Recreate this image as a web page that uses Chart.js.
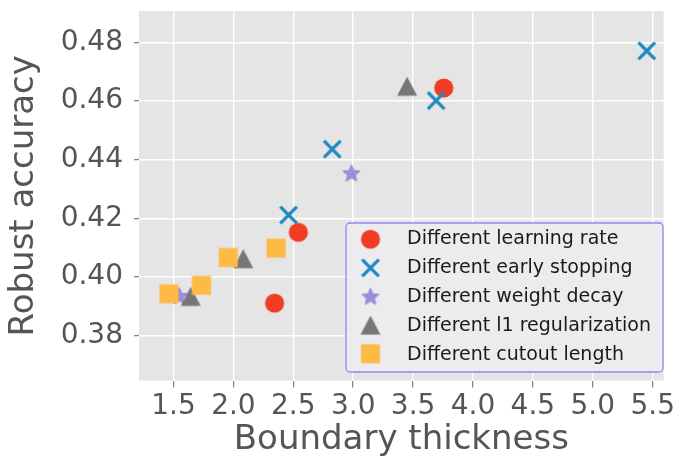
<!DOCTYPE html>
<html><head><meta charset="utf-8">
<script src="https://cdn.jsdelivr.net/npm/chart.js@4/dist/chart.umd.min.js"></script>
<style>html,body{margin:0;padding:0;background:#fff}#wrap{width:675px;height:463px;position:relative}</style>
</head><body><div id="wrap"><canvas id="c" width="675" height="463"></canvas></div>
<script>
const seriesNames = ["Different learning rate","Different early stopping","Different weight decay","Different l1 regularization","Different cutout length"];
const lrX = [3.756, 2.542, 2.344];
const lrY = [0.4645, 0.4152, 0.3910];
const esX = [5.451, 3.692, 2.825, 2.461];
const esY = [0.4772, 0.4602, 0.4436, 0.4211];
const wdX = [2.985, 1.549];
const wdY = [0.4354, 0.3935];
const l1X = [3.450, 2.082, 1.643];
const l1Y = [0.4651, 0.4062, 0.3933];
const coX = [2.356, 1.957, 1.733, 1.462];
const coY = [0.4098, 0.4066, 0.3971, 0.3942];
const xTicks = [1.5, 2.0, 2.5, 3.0, 3.5, 4.0, 4.5, 5.0, 5.5];
const yTicks = [0.38, 0.40, 0.42, 0.44, 0.46, 0.48];

const colors = ["#F23B24", "#1C88C2", "#9A8EDB", "#777777", "#FDBA45"];

function mk(size, draw){const c=document.createElement('canvas');c.width=size;c.height=size;const g=c.getContext('2d');draw(g,size/2);return c;}
const mCircle = mk(24,(g,h)=>{g.fillStyle=colors[0];g.beginPath();g.arc(h,h,9.6,0,Math.PI*2);g.fill();});
const mX = mk(24,(g,h)=>{g.strokeStyle=colors[1];g.lineWidth=3.2;g.lineCap='butt';const d=8.3;g.beginPath();g.moveTo(h-d,h-d);g.lineTo(h+d,h+d);g.moveTo(h-d,h+d);g.lineTo(h+d,h-d);g.stroke();});
const mStar = mk(24,(g,h)=>{g.fillStyle=colors[2];g.strokeStyle=colors[2];g.lineWidth=1.4;g.lineJoin='round';g.beginPath();
  for(let i=0;i<10;i++){const r=i%2?3.9:8.6;const a=-Math.PI/2+i*Math.PI/5;const x=h+r*Math.cos(a),y=h+0.6+r*Math.sin(a);i?g.lineTo(x,y):g.moveTo(x,y);}g.closePath();g.fill();g.stroke();});
const mTri = mk(24,(g,h)=>{g.fillStyle=colors[3];g.beginPath();g.moveTo(h,h-9.6);g.lineTo(h+10,h+9.6);g.lineTo(h-10,h+9.6);g.closePath();g.fill();});
const mSq = mk(24,(g,h)=>{g.fillStyle=colors[4];g.fillRect(h-9.5,h-9.5,19,19);});
const markers=[mCircle,mX,mStar,mTri,mSq];

const xs=[lrX,esX,wdX,l1X,coX], ys=[lrY,esY,wdY,l1Y,coY];
const datasets = seriesNames.map((n,i)=>({
  label:n, data: xs[i].map((x,j)=>({x:x,y:ys[i][j]})),
  pointStyle: markers[i], pointRadius:10, pointHoverRadius:10,
  backgroundColor: colors[i], borderColor: colors[i], showLine:false, order:4-i
}));

const bgPlugin = {id:'bg', beforeDraw(chart){const {ctx,chartArea:a}=chart;ctx.save();ctx.fillStyle='#fff';ctx.fillRect(0,0,chart.width,chart.height);ctx.fillStyle='#E5E5E5';ctx.fillRect(a.left,a.top,a.right-a.left,a.bottom-a.top);ctx.restore();}};
const legendPlugin = {id:'lg', afterDraw(chart){const ctx=chart.ctx;ctx.save();
  const x=346,y=223,w=317,h=149,r=4;
  ctx.beginPath();ctx.roundRect(x,y,w,h,r);ctx.fillStyle='rgba(236,236,238,0.9)';ctx.fill();ctx.lineWidth=1.3;ctx.strokeStyle='#8C8CE8';ctx.stroke();
  ctx.font='19px "DejaVu Sans"';ctx.fillStyle='#1a1a1a';ctx.textBaseline='alphabetic';ctx.textAlign='left';
  seriesNames.forEach((n,i)=>{const my=239.3+i*28.6;ctx.drawImage(markers[i],370.5-12,my-12);ctx.fillText(n,407,244+i*29);});
  ctx.restore();}};

new Chart(document.getElementById('c'),{
  type:'scatter',
  data:{datasets},
  plugins:[bgPlugin,legendPlugin],
  options:{
    responsive:false, animation:false, devicePixelRatio:1,
    layout:{padding:{top:7.5,right:11.3,left:0,bottom:0}},
    plugins:{legend:{display:false},tooltip:{enabled:false}},
    scales:{
      x:{type:'linear',min:1.212,max:5.592,
        afterBuildTicks:s=>{s.ticks=xTicks.map(v=>({value:v}));},
        afterFit:s=>{s.height=82.5;s.paddingLeft=0;s.paddingRight=0;},
        border:{display:false},
        grid:{color:'#ffffff',lineWidth:1.4,tickColor:'#666',tickLength:7,tickWidth:1},
        ticks:{padding:2,color:'#555555',font:{family:'DejaVu Sans',size:28},callback:v=>Number(v).toFixed(1),maxRotation:0,autoSkip:false},
        title:{display:true,text:'Boundary thickness',color:'#555555',font:{family:'DejaVu Sans',size:34},padding:{top:0,bottom:2.5}}
      },
      y:{type:'linear',min:0.36458,max:0.4908,
        afterBuildTicks:s=>{s.ticks=yTicks.map(v=>({value:v}));},
        afterFit:s=>{s.width=139;s.paddingTop=0;s.paddingBottom=0;},
        border:{display:false},
        grid:{color:'#ffffff',lineWidth:1.4,tickColor:'#666',tickLength:5,tickWidth:1},
        ticks:{padding:11,color:'#555555',font:{family:'DejaVu Sans',size:28},callback:v=>Number(v).toFixed(2),autoSkip:false},
        title:{display:true,text:'Robust accuracy',color:'#555555',font:{family:'DejaVu Sans',size:34},padding:{top:4,bottom:0}}
      }
    }
  }
});
</script></body></html>
